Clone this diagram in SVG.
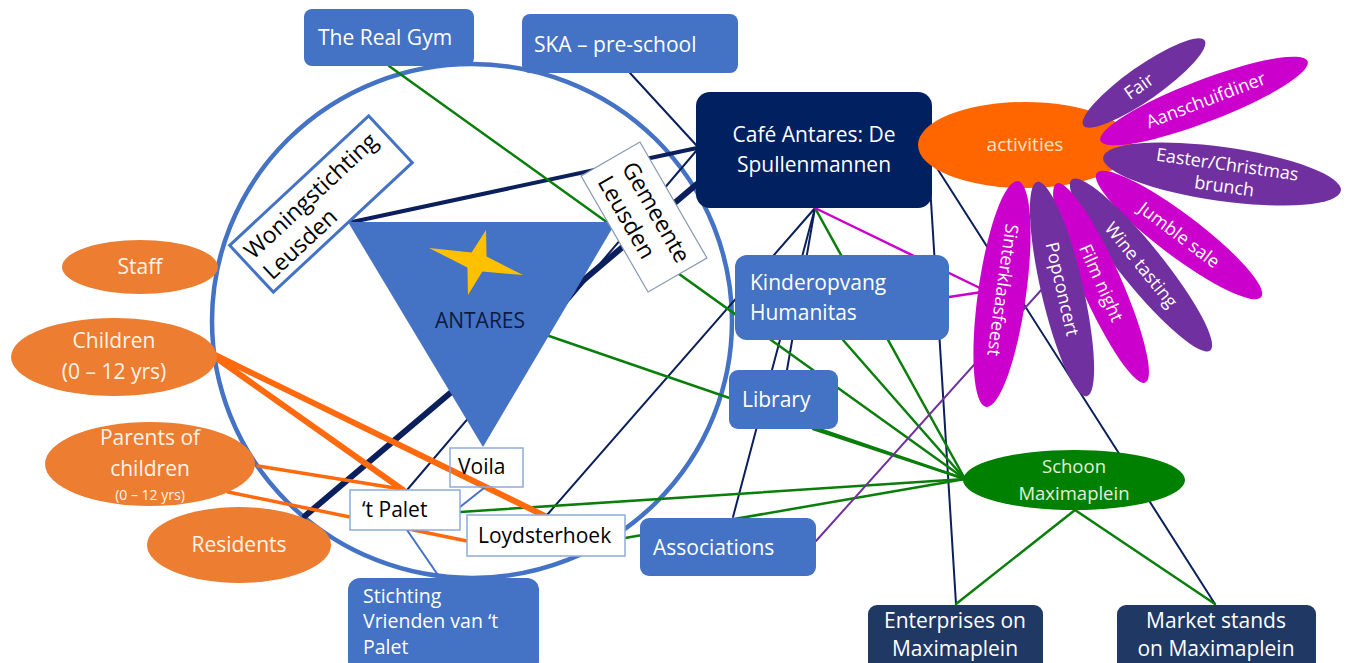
<svg xmlns="http://www.w3.org/2000/svg" width="1351" height="663" viewBox="0 0 1351 663">
<style>
text{font-family:"Open Sans","Liberation Sans",sans-serif;}
.bl{fill:#4472C4;}
.wt{fill:#FFFFFF;font-size:21px;}
.bk{fill:#000000;font-size:21px;}
.rb{fill:#000000;font-size:23px;}
.or{fill:#ED7D31;}
.ot{fill:#FFF4EA;font-size:21px;text-anchor:middle;}
.pt{fill:#FFFFFF;font-size:18px;text-anchor:middle;}
.pu{fill:#7030A0;}
.mg{fill:#CC00CC;}
.wb{fill:#FFFFFF;stroke:#8FAADC;stroke-width:1.5;}
.c{fill:none;stroke-linecap:round;}
.nv{stroke:#0B1F5C;stroke-width:2;}
.gr{stroke:#0A7E0A;stroke-width:2.5;}
.og{stroke:#FF6A0E;}
.st{fill:#FFFFFF;font-size:19.5px;}
</style>
<g id="circle">
<ellipse cx="472" cy="321" rx="260" ry="257" fill="none" stroke="#4472C4" stroke-width="4.5"/>
</g>
<g id="connectors">
<line class="c nv" x1="630" y1="73" x2="697" y2="146"/>
<line class="c nv" x1="407" y1="490" x2="697" y2="150"/>
<line class="c nv" x1="547" y1="515" x2="815" y2="208"/>
<line class="c nv" x1="815" y1="208" x2="733" y2="517"/>
<line class="c nv" x1="815" y1="208" x2="787" y2="370"/>
<line class="c nv" x1="930" y1="185" x2="956" y2="604"/>
<line class="c nv" x1="935" y1="165" x2="1215" y2="604"/>
<line class="c nv" x1="352" y1="222" x2="697" y2="148" style="stroke-width:4"/>
<line class="c nv" x1="305" y1="516" x2="697" y2="184" style="stroke-width:6"/>
<line class="c gr" x1="389" y1="66" x2="965" y2="479"/>
<line class="c gr" x1="520" y1="326" x2="965" y2="479"/>
<line class="c gr" x1="815" y1="208" x2="965" y2="479"/>
<line class="c gr" x1="843" y1="340" x2="965" y2="479"/>
<line class="c gr" x1="813" y1="429" x2="965" y2="479"/>
<line class="c gr" x1="460" y1="512" x2="965" y2="479"/>
<line class="c gr" x1="625" y1="538" x2="965" y2="479"/>
<line class="c gr" x1="1075" y1="510" x2="956" y2="604"/>
<line class="c gr" x1="1075" y1="510" x2="1215" y2="604"/>
<line class="c og" x1="215" y1="355" x2="545" y2="516" style="stroke-width:6"/>
<line class="c og" x1="215" y1="357" x2="403" y2="490" style="stroke-width:6"/>
<line class="c og" x1="258" y1="466" x2="401" y2="489" style="stroke-width:3.5"/>
<line class="c og" x1="228" y1="492" x2="467" y2="541" style="stroke-width:3.5"/>
<line class="c" x1="815" y1="208" x2="982" y2="289" stroke="#CC00CC" stroke-width="2.5"/>
<line class="c" x1="949" y1="297" x2="982" y2="292" stroke="#CC00CC" stroke-width="2.5"/>
<line class="c" x1="816" y1="541" x2="1043" y2="288" stroke="#7030A0" stroke-width="2"/>
<line class="c" x1="407" y1="530" x2="440" y2="578" stroke="#4472C4" stroke-width="2"/>
<line class="c" x1="460" y1="507" x2="484" y2="488" stroke="#4472C4" stroke-width="2"/>
</g>
<g id="antares">
<polygon class="bl" points="348,222 616,222 483,447"/>
<polygon fill="#FFC000" points="486,230 486.6,256.6 523,275 482.4,271.6 468,295 467.4,267.4 429,248 471.6,252.4"/>
<text x="480" y="328" font-size="21" fill="#0D1B3E" text-anchor="middle">ANTARES</text>
</g>
<g id="woningstichting" transform="translate(321,204) rotate(-43)">
<rect x="-95" y="-32" width="190" height="64" fill="#FFFFFF" stroke="#4472C4" stroke-width="3"/>
<text class="rb" x="-88" y="-5">Woningstichting</text>
<text class="rb" x="-88" y="23">Leusden</text>
</g>
<g id="gemeente" transform="translate(644,217) rotate(60)">
<rect x="-67" y="-34" width="134" height="68" fill="#FFFFFF" stroke="#8497B0" stroke-width="1.2"/>
<text class="rb" x="-54" y="-5">Gemeente</text>
<text class="rb" x="-54" y="23">Leusden</text>
</g>
<g id="realgym"><rect class="bl" x="304" y="9" width="170" height="57" rx="8"/><text class="wt" x="318" y="45">The Real Gym</text></g>
<g id="ska"><rect class="bl" x="522" y="14" width="216" height="59" rx="8"/><text class="wt" x="534" y="52">SKA – pre-school</text></g>
<g id="cafe"><rect x="696" y="92" width="236" height="116" rx="14" fill="#002060"/><text class="wt" x="814" y="142" text-anchor="middle">Café Antares: De</text><text class="wt" x="814" y="172" text-anchor="middle">Spullenmannen</text></g>
<g id="kinderopvang"><rect class="bl" x="735" y="255" width="214" height="85" rx="12"/><text class="wt" x="750" y="290">Kinderopvang</text><text class="wt" x="750" y="320">Humanitas</text></g>
<g id="library"><rect class="bl" x="729" y="370" width="109" height="59" rx="9"/><text class="wt" x="742" y="407">Library</text></g>
<g id="associations"><rect class="bl" x="640" y="518" width="176" height="58" rx="9"/><text class="wt" x="653" y="555">Associations</text></g>
<g id="stichting"><rect class="bl" x="348" y="578" width="191" height="95" rx="12"/><text class="st" x="363" y="603">Stichting</text><text class="st" x="363" y="628">Vrienden  van ‘t</text><text class="st" x="363" y="654">Palet</text></g>
<g id="voila"><rect x="450" y="448" width="73" height="39" fill="none" stroke="#8FAADC" stroke-width="1.5"/><text class="bk" x="458" y="474">Voila</text></g>
<g id="palet"><rect class="wb" x="350" y="490" width="110" height="40"/><text class="bk" x="362" y="517">‘t Palet</text></g>
<g id="loydsterhoek"><rect class="wb" x="467" y="515" width="158" height="41"/><text class="bk" x="478" y="543">Loydsterhoek</text></g>
<g id="staff"><ellipse class="or" cx="140" cy="267" rx="78" ry="27"/><text class="ot" x="140" y="274">Staff</text></g>
<g id="children"><ellipse class="or" cx="114" cy="357" rx="103" ry="39"/><text class="ot" x="114" y="348">Children</text><text class="ot" x="114" y="379">(0 – 12 yrs)</text></g>
<g id="parents"><ellipse class="or" cx="150" cy="464" rx="105" ry="42"/><text class="ot" x="150" y="445">Parents of</text><text class="ot" x="150" y="476">children</text><text class="ot" x="150" y="500" style="font-size:14px">(0 – 12 yrs)</text></g>
<g id="residents"><ellipse class="or" cx="239" cy="545" rx="92" ry="38"/><text class="ot" x="239" y="552">Residents</text></g>
<g id="schoon"><ellipse cx="1074" cy="480" rx="111" ry="30" fill="#008000"/><text x="1074" y="473" font-size="18.5" fill="#E2F0D9" text-anchor="middle">Schoon</text><text x="1074" y="500" font-size="18.5" fill="#E2F0D9" text-anchor="middle">Maximaplein</text></g>
<g id="enterprises"><rect x="868" y="605" width="175" height="70" rx="9" fill="#1F3864"/><text class="wt" x="955" y="628" text-anchor="middle">Enterprises on</text><text class="wt" x="955" y="656" text-anchor="middle">Maximaplein</text></g>
<g id="market"><rect x="1117" y="605" width="199" height="70" rx="9" fill="#1F3864"/><text class="wt" x="1216" y="628" text-anchor="middle">Market stands</text><text class="wt" x="1216" y="656" text-anchor="middle">on Maximaplein</text></g>
<g id="activities"><ellipse cx="1025" cy="145" rx="107" ry="43" fill="#FF6600"/><text x="1025" y="151" font-size="19" fill="#FFE3C8" text-anchor="middle">activities</text></g>
<g id="fair" transform="translate(1144,83) rotate(-35)"><ellipse class="pu" rx="74" ry="17"/><text class="pt" x="-6" y="6">Fair</text></g>
<g id="aanschuifdiner" transform="translate(1204,101) rotate(-21)"><ellipse class="mg" rx="111" ry="21"/><text class="pt" x="2" y="6">Aanschuifdiner</text></g>
<g id="easter" transform="translate(1222,174) rotate(8)"><ellipse class="pu" rx="120" ry="27"/><text class="pt" x="4" y="-4">Easter/Christmas</text><text class="pt" x="4" y="18">brunch</text></g>
<g id="jumble" transform="translate(1179,235) rotate(37)"><ellipse class="mg" rx="103" ry="21"/><text class="pt" x="0" y="6">Jumble sale</text></g>
<g id="wine" transform="translate(1141,265) rotate(51)"><ellipse class="pu" rx="110" ry="21"/><text class="pt" x="0" y="6">Wine tasting</text></g>
<g id="film" transform="translate(1101,283) rotate(66)"><ellipse class="mg" rx="109" ry="20"/><text class="pt" x="0" y="6">Film night</text></g>
<g id="popconcert" transform="translate(1062,289) rotate(77)"><ellipse class="pu" rx="110" ry="21"/><text class="pt" x="0" y="6">Popconcert</text></g>
<g id="sinterklaasfeest" transform="translate(1002,294) rotate(98)"><ellipse class="mg" rx="114" ry="24"/><text class="pt" x="-4" y="6">Sinterklaasfeest</text></g>
</svg>
